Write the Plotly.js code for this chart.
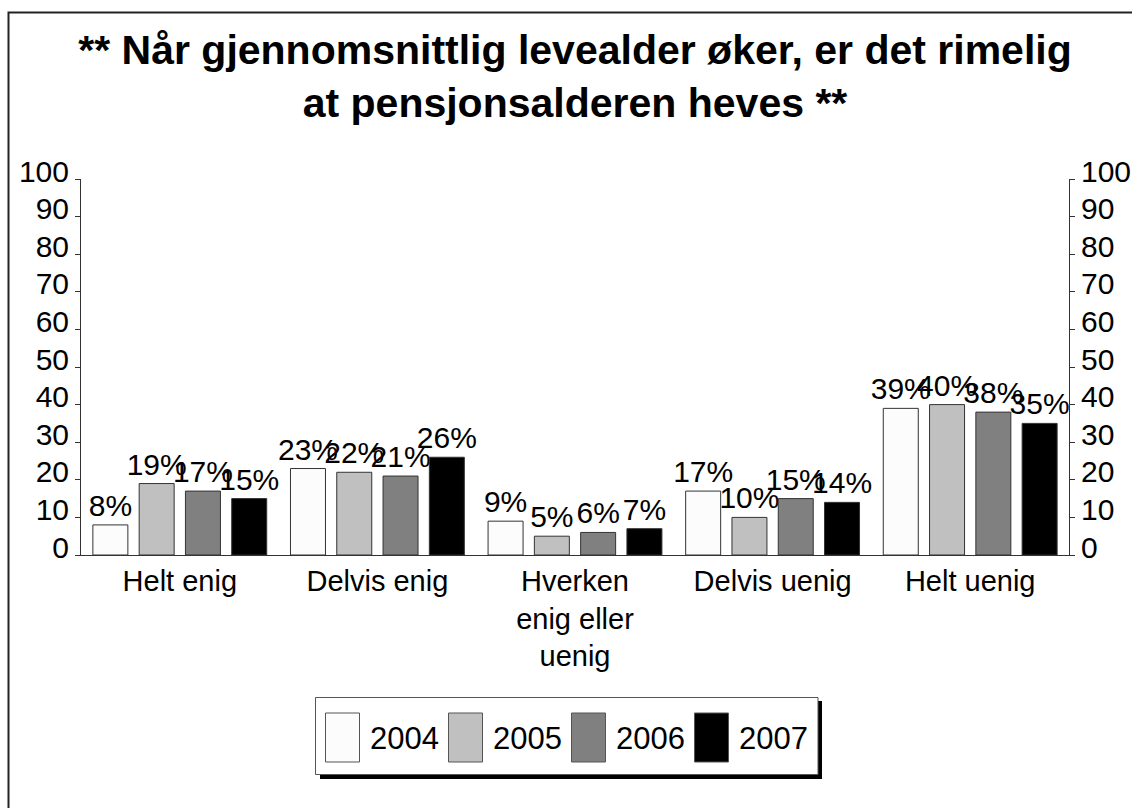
<!DOCTYPE html>
<html>
<head>
<meta charset="utf-8">
<script src="https://cdn.plot.ly/plotly-3.0.1.min.js"></script>
<style>
  html, body { margin: 0; padding: 0; background: #ffffff; }
  #chart { width: 1132px; height: 808px; }
</style>
</head>
<body>
<div id="chart"></div>
<script>
// ---- data ----
const categories = ["Helt enig", "Delvis enig", "Hverken<br>enig eller<br>uenig", "Delvis uenig", "Helt uenig"];
const years = ["2004", "2005", "2006", "2007"];
const values2004 = [8, 23, 9, 17, 39];
const values2005 = [19, 22, 5, 10, 40];
const values2006 = [17, 21, 6, 15, 38];
const values2007 = [15, 26, 7, 14, 35];
const yTicks = [0, 10, 20, 30, 40, 50, 60, 70, 80, 90, 100];
const colors = ["#fcfcfc", "#c0c0c0", "#808080", "#000000"];
const titleText = "** Når gjennomsnittlig levealder øker, er det rimelig<br>at pensjonsalderen heves **";

const series = [values2004, values2005, values2006, values2007];
const FONT = "Liberation Sans, Arial, sans-serif";

const traces = series.map((vals, i) => ({
  type: "bar",
  name: years[i],
  x: categories,
  y: vals,
  text: vals.map(v => v + "%"),
  textposition: "outside",
  textfont: { family: FONT, size: 30, color: "#000" },
  constraintext: "none",
  cliponaxis: false,
  marker: { color: colors[i], line: { color: "#333333", width: 1 } },
  hoverinfo: "skip",
  showlegend: false
}));

// pixel -> paper helpers for the plot box
const W = 1132, H = 808;
const M = { l: 81, r: 63, t: 179, b: 253 };
const PW = W - M.l - M.r, PH = H - M.t - M.b;
const px = x => (x - M.l) / PW;
const py = y => (H - M.b - y) / PH;

// frame + manual legend (box + shadow + swatches + labels)
const shapes = [
  { type: "rect", xref: "paper", yref: "paper", x0: px(8.5), x1: px(1160), y0: py(12.5), y1: py(840),
    line: { color: "#222", width: 2 }, fillcolor: "rgba(0,0,0,0)", layer: "below" },
  { type: "rect", xref: "paper", yref: "paper", x0: px(320), x1: px(822), y0: py(701), y1: py(779),
    line: { width: 0 }, fillcolor: "#000" },
  { type: "rect", xref: "paper", yref: "paper", x0: px(315.5), x1: px(818), y0: py(697.5), y1: py(774.5),
    line: { color: "#555", width: 1 }, fillcolor: "#fff" }
];
const annotations = [];
years.forEach((yr, i) => {
  const sx = 325.5 + i * 123;
  shapes.push({ type: "rect", xref: "paper", yref: "paper", x0: px(sx), x1: px(sx + 34), y0: py(713), y1: py(762),
    line: { color: "#555", width: 1 }, fillcolor: colors[i] });
  annotations.push({ xref: "paper", yref: "paper", x: px(sx + 42), y: py(738), xanchor: "left", yanchor: "middle",
    text: yr, showarrow: false, font: { family: FONT, size: 31, color: "#000" } });
});

const axisCommon = {
  range: [0, 100],
  tickvals: yTicks,
  ticktext: yTicks.map(String),
  showline: true, linecolor: "#333", linewidth: 1,
  ticks: "outside", ticklen: 5, tickcolor: "#333",
  showgrid: false, zeroline: false,
  tickfont: { family: FONT, size: 30, color: "#000" },
  ticklabelshift: -8,
  fixedrange: true
};

const layout = {
  width: W, height: H,
  margin: M,
  paper_bgcolor: "#fff", plot_bgcolor: "#fff",
  title: { text: titleText, x: 0.5, xref: "paper", xanchor: "center", y: 0.921, yref: "container", yanchor: "top",
    font: { family: FONT, size: 41, color: "#000", weight: "bold" } },
  barmode: "group",
  bargap: 0.063,
  bargroupgap: 0.244,
  xaxis: {
    type: "category",
    showline: true, linecolor: "#333", linewidth: 1,
    ticks: "", showgrid: false, zeroline: false,
    tickfont: { family: FONT, size: 29, color: "#000" },
    tickangle: 0,
    fixedrange: true
  },
  yaxis: Object.assign({}, axisCommon, { side: "left" }),
  yaxis2: Object.assign({}, axisCommon, { side: "right", overlaying: "y", anchor: "x" }),
  showlegend: false,
  shapes: shapes,
  annotations: annotations
};

// invisible helper trace so the right axis is bound
traces.push({ type: "scatter", x: [categories[0]], y: [0], yaxis: "y2", mode: "markers",
  marker: { opacity: 0 }, hoverinfo: "skip", showlegend: false });

Plotly.newPlot("chart", traces, layout, { staticPlot: true, displayModeBar: false });
</script>
</body>
</html>
